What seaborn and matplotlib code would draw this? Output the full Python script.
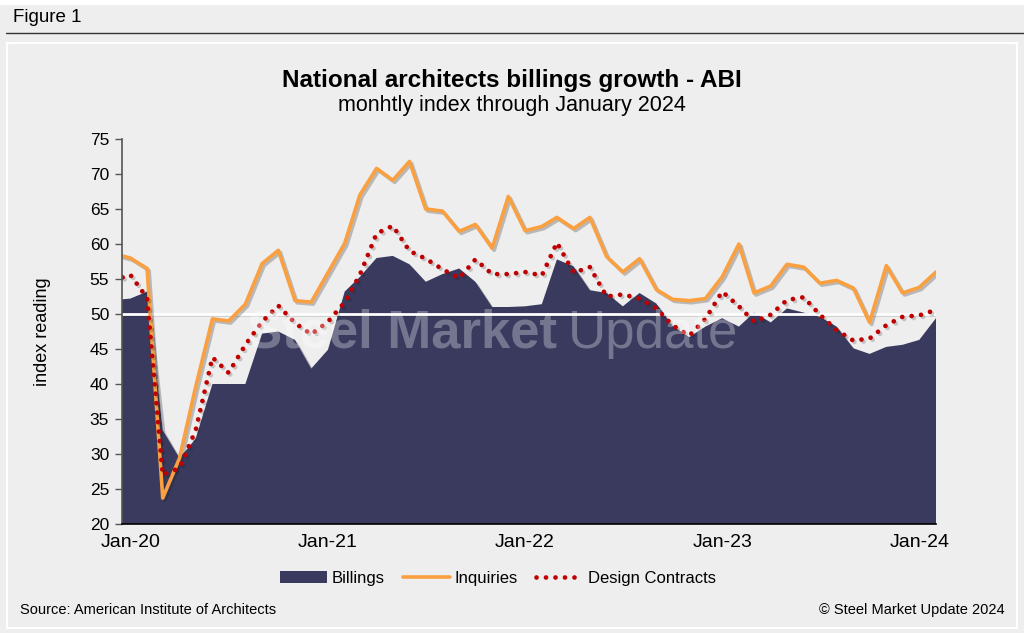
import matplotlib
matplotlib.use("Agg")
import matplotlib.pyplot as plt
import matplotlib.dates as mdates
import matplotlib.patheffects as pe
from matplotlib.patches import Rectangle, Patch
from matplotlib.lines import Line2D
import seaborn as sns
import pandas as pd

# Datos (Dec-19 solo para el borde recortado)
months = pd.date_range("2019-12-01", "2024-02-01", freq="MS")

billings = [52.0,
            52.2, 53.2, 33.4, 29.4, 32.2, 40.0, 40.0, 40.0, 47.2, 47.5, 46.3, 42.2,
            44.9, 53.2, 55.3, 58.0, 58.3, 57.1, 54.6, 55.7, 56.5, 54.6, 51.0, 51.0,
            51.1, 51.4, 57.8, 56.8, 53.4, 53.0, 51.1, 53.0, 51.5, 48.3, 46.7, 48.2,
            49.4, 48.2, 50.2, 48.8, 50.8, 50.2, 49.6, 48.2, 45.1, 44.3, 45.3, 45.6,
            46.3, 49.4]

inquiries = [58.6,
             58.0, 56.5, 23.7, 29.4, 39.6, 49.3, 49.0, 51.4, 57.2, 59.1, 51.9, 51.7,
             55.9, 60.1, 67.0, 70.8, 69.1, 71.8, 65.0, 64.7, 61.8, 62.8, 59.4, 66.8,
             61.9, 62.5, 63.8, 62.2, 63.8, 58.2, 56.0, 57.9, 53.5, 52.1, 51.9, 52.2,
             55.3, 60.0, 53.0, 54.0, 57.1, 56.7, 54.4, 54.8, 53.7, 48.8, 56.9, 53.0,
             53.8, 56.0]

design_contracts = [54.8,
                    55.6, 52.3, 27.0, 28.0, 33.4, 43.8, 41.6, 45.6, 48.9, 51.2, 48.7, 47.1,
                    48.9, 51.7, 55.6, 61.5, 62.6, 59.0, 57.9, 56.4, 55.1, 57.8, 55.7, 55.7,
                    56.0, 55.5, 60.2, 55.9, 56.7, 52.5, 52.8, 52.2, 50.8, 48.4, 46.9, 49.3,
                    53.2, 51.1, 48.9, 49.9, 52.0, 52.4, 49.9, 47.7, 46.2, 46.5, 48.4, 49.6,
                    49.8, 50.6]

df = pd.DataFrame({"month": months, "Billings": billings,
                   "Inquiries": inquiries, "Design Contracts": design_contracts})

NAVY = "#393A5E"
ORANGE = "#FAA041"
RED = "#C00000"
BG = "#EEEEEE"
DOTS = (0, (0.01, 2.0))

sns.set_theme(style="white")
plt.rcParams["font.family"] = ["Liberation Sans", "DejaVu Sans"]
plt.rcParams["text.color"] = "black"
plt.rcParams["axes.labelcolor"] = "black"

fig = plt.figure(figsize=(10.24, 6.33), dpi=100, facecolor=BG)

# marco de la figura
fig.patches.append(Rectangle((0, 1 - 5 / 633), 1, 5 / 633, transform=fig.transFigure,
                             facecolor="white", edgecolor="none", zorder=0))
fig.lines.append(Line2D([6 / 1024, 1], [1 - 33 / 633] * 2, transform=fig.transFigure,
                        color="#333333", lw=1.0))
fig.patches.append(Rectangle((7 / 1024, 5 / 633), 1010 / 1024, 585 / 633,
                             transform=fig.transFigure, facecolor="none",
                             edgecolor="white", lw=1.5))
fig.text(13 / 1024, 1 - 17 / 633, "Figure 1", fontsize=13.5, va="center", ha="left")

ax = fig.add_axes([121.7 / 1024, 1 - 524 / 633, (936 - 121.7) / 1024, (524 - 139) / 633])
ax.set_facecolor("none")

# area de Billings
ax.fill_between(df["month"], 20, df["Billings"], color=NAVY, lw=0, zorder=1,
                path_effects=[pe.SimplePatchShadow(offset=(2, -2), alpha=0.25), pe.Normal()])

# linea en 50
ax.axhline(50, color="white", lw=2, zorder=2,
           path_effects=[pe.SimpleLineShadow(offset=(1, -1), alpha=0.15), pe.Normal()])

sns.lineplot(data=df, x="month", y="Inquiries", ax=ax, color=ORANGE, lw=2.6, zorder=3,
             path_effects=[pe.SimpleLineShadow(offset=(1.5, -1.5), alpha=0.25), pe.Normal()])
sns.lineplot(data=df, x="month", y="Design Contracts", ax=ax, color=RED, lw=3.4, zorder=4,
             linestyle=DOTS, dash_capstyle="round",
             path_effects=[pe.SimpleLineShadow(offset=(1.5, -1.5), alpha=0.2), pe.Normal()])

ax.set_xlim(pd.Timestamp("2019-12-16"), pd.Timestamp("2024-02-01"))
ax.set_ylim(20, 75)
ax.set_yticks(range(20, 80, 5))
ax.xaxis.set_major_locator(mdates.YearLocator())
ax.xaxis.set_major_formatter(mdates.DateFormatter("%b-%y"))
ax.tick_params(axis="x", length=0, labelsize=14, pad=7, colors="black")
ax.tick_params(axis="y", length=5, width=1, color="#555555", labelcolor="black",
               labelsize=12.5, pad=4, left=True, direction="out")
ax.set_xlabel("")
ax.set_ylabel("index reading", fontsize=13, labelpad=28)
for s in ["top", "right"]:
    ax.spines[s].set_visible(False)
ax.spines["left"].set_color("#555555")
ax.spines["left"].set_linewidth(1.2)
ax.spines["bottom"].set_color("black")
ax.spines["bottom"].set_linewidth(1.2)
ax.spines["left"].set_zorder(6)
ax.spines["bottom"].set_zorder(6)

# marca de agua
wm = dict(color="white", alpha=0.3, fontsize=38, va="baseline", zorder=10,
          transform=fig.transFigure)
fig.text(557 / 1024, 1 - 348 / 633, "Steel Market", ha="right", fontweight="bold", **wm)
fig.text(568 / 1024, 1 - 348 / 633, "Update", ha="left", fontweight="light", **wm)

fig.text(0.5, 1 - 80 / 633, "National architects billings growth - ABI", ha="center",
         va="center", fontsize=17.5, fontweight="bold")
fig.text(0.5, 1 - 106 / 633, "monhtly index through January 2024", ha="center",
         va="center", fontsize=15.5)

handles = [Patch(facecolor=NAVY, edgecolor="none"),
           Line2D([], [], color=ORANGE, lw=2.6),
           Line2D([], [], color=RED, lw=3.4, linestyle=DOTS, dash_capstyle="round")]
fig.legend(handles, ["Billings", "Inquiries", "Design Contracts"], loc="center",
           bbox_to_anchor=(498 / 1024, 1 - 578 / 633), ncol=3, frameon=False,
           fontsize=12, handlelength=2.8, columnspacing=1.1, handletextpad=0.3)

fig.text(20 / 1024, 1 - 610 / 633, "Source: American Institute of Architects",
         ha="left", va="center", fontsize=10.5)
fig.text(1005 / 1024, 1 - 610 / 633, "\u00a9 Steel Market Update 2024",
         ha="right", va="center", fontsize=10.5)

fig.savefig("out.png", dpi=100, facecolor=BG)
